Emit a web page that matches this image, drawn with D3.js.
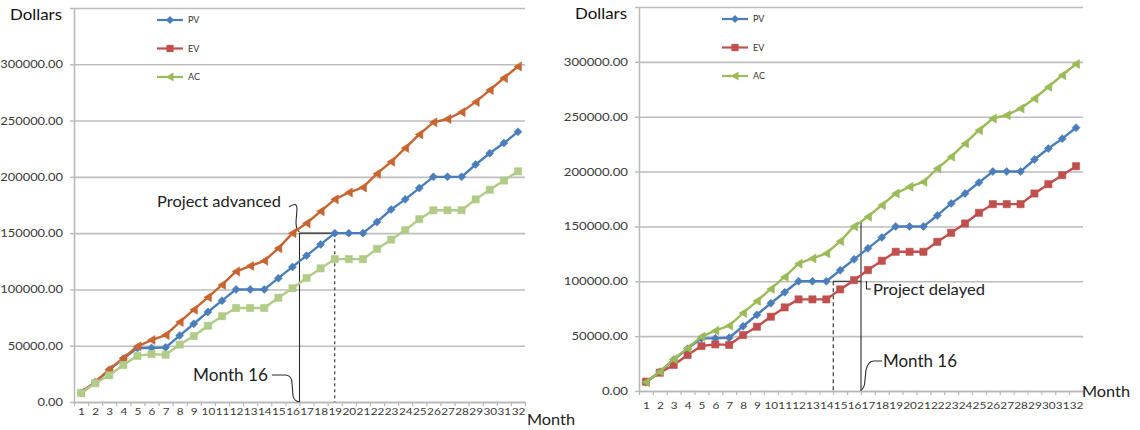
<!DOCTYPE html>
<html><head><meta charset="utf-8">
<script src="https://cdn.jsdelivr.net/npm/d3@7"></script>
<style>
body{margin:0;background:#fff;}
svg{display:block;font-family:Lato,"Open Sans",sans-serif;}
</style>
</head><body>
<svg id="c" width="1140" height="430"></svg>
<script>
// ---------- data ----------
const monthLabels = ["1","2","3","4","5","6","7","8","9","10","11","12","13","14","15","16",
  "17","18","19","20","21","22","23","24","25","26","27","28","29","30","31","32"];
const yTickValues = [0, 50000, 100000, 150000, 200000, 250000, 300000, 350000];
const legendNames = ["PV", "EV", "AC"];

// Planned value (same in both charts)
const pv = [8000, 17500, 28500, 38500, 48000, 48000, 48500, 59000, 69500, 80000, 90000, 100000,
  100000, 100000, 110000, 120000, 130000, 140000, 150000, 150000, 150000, 160000, 171000, 180000,
  190000, 200000, 200000, 200000, 211000, 221000, 230000, 240000];

// Left chart: project advanced
const evAdvanced = [8500, 17600, 29000, 39000, 49500, 55000, 59500, 71000, 82000, 93000, 104000, 116000,
  120800, 125400, 136500, 150000, 158800, 169400, 180000, 186100, 190600, 202800, 213400, 225600,
  237700, 248400, 251400, 257500, 266600, 277100, 287800, 298000];
const acAdvanced = [8000, 16700, 23700, 32800, 41000, 42500, 42000, 51000, 58600, 67700, 76200, 83500,
  83500, 83500, 92600, 101000, 110200, 118700, 126900, 126900, 126900, 136000, 144200, 152700,
  162400, 170300, 170300, 170300, 180000, 188500, 196700, 204900];

// Right chart: project delayed
const evDelayed = [8500, 16700, 23700, 32800, 41000, 42500, 42000, 51000, 58600, 67700, 76200, 83500,
  83500, 83500, 92600, 101000, 110200, 118700, 126900, 126900, 126900, 136000, 144200, 152700,
  162400, 170300, 170300, 170300, 180000, 188500, 196700, 204900];
const acDelayed = [8000, 17600, 29000, 39000, 49500, 55000, 59500, 71000, 82000, 93000, 104000, 116000,
  120800, 125400, 136500, 150000, 158800, 169400, 180000, 186100, 190600, 202800, 213400, 225600,
  237700, 248400, 251400, 257500, 266600, 277100, 287800, 298000];

// ---------- drawing ----------
const svg = d3.select("#c");

const markerPath = {
  diamond: "M0,-4L4,0L0,4L-4,0Z",
  square: "M-3.6,-3.6H3.6V3.6H-3.6Z",
  triLeft: "M-4,0L3.5,-4.5L3.5,4.5Z"
};

const C = {blue:"#4A7EBB", red:"#C0504D", green:"#9BBB59", orange:"#C8642F", pale:"#B1CB88"};

function panel(cfg) {
  const g = svg.append("g");

  const x = d3.scaleLinear().domain([0.5, monthLabels.length + 0.5]).range([cfg.left, cfg.right]);
  const y = d3.scaleLinear().domain([0, 350000]).range([cfg.bottom, cfg.top]);

  // y axis with gridlines
  const ya = g.append("g").attr("transform", `translate(${cfg.left},0)`)
    .call(d3.axisLeft(y).tickValues(yTickValues)
      .tickSizeInner(-(cfg.right - cfg.left)).tickSizeOuter(0).tickPadding(11)
      .tickFormat(d => d === 350000 ? "" : d.toFixed(2)));
  ya.select(".domain").attr("stroke", "#b8b8b8").attr("stroke-width", 1.5);
  ya.selectAll(".tick line").attr("stroke", "#bdbdbd").attr("stroke-width", 1.6);
  ya.selectAll(".tick").append("line").attr("x1", -4).attr("x2", 0)
    .attr("stroke", "#b8b8b8").attr("stroke-width", 1.4);
  ya.selectAll(".tick text")
    .attr("font-size", 11).attr("fill", "#3a3a3a")
    .attr("font-family", "Lato, 'Open Sans', sans-serif")
    .attr("x", -11 / cfg.ysx)
    .attr("transform", `scale(${cfg.ysx},1)`);

  // x axis: boundary ticks
  const bounds = monthLabels.map((m, i) => i + 0.5).concat([monthLabels.length + 0.5]);
  const xt = g.append("g").attr("transform", `translate(0,${cfg.bottom})`)
    .call(d3.axisBottom(x).tickValues(bounds).tickSize(4).tickSizeOuter(0).tickFormat(""));
  xt.select(".domain").attr("stroke", "#b8b8b8").attr("stroke-width", 1.5);
  xt.selectAll(".tick line").attr("stroke", "#b8b8b8").attr("stroke-width", 1.2);

  // x axis: labels at category centres
  const xl = g.append("g").attr("transform", `translate(0,${cfg.bottom})`)
    .call(d3.axisBottom(x).tickValues(monthLabels.map((m, i) => i + 1))
      .tickSize(0).tickPadding(cfg.xPad).tickFormat((d, i) => monthLabels[i]));
  xl.select(".domain").remove();
  xl.selectAll(".tick text").attr("font-size", 10).attr("fill", "#3a3a3a")
    .attr("font-family", "Lato, 'Open Sans', sans-serif")
    .attr("transform", "scale(1.18,1)");

  // axis titles
  g.append("text").attr("x", cfg.dollarsX).attr("y", cfg.top + 12)
    .attr("font-size", 16).attr("fill", "#111").attr("textLength", 52)
    .attr("lengthAdjust", "spacingAndGlyphs").text("Dollars");
  g.append("text").attr("x", cfg.monthX).attr("y", cfg.monthY)
    .attr("font-size", 16).attr("fill", "#222").attr("textLength", 48)
    .attr("lengthAdjust", "spacingAndGlyphs").text("Month");

  // annotations (drawn beneath series)
  const ann = g.append("g").attr("stroke", "#2a2a2a").attr("fill", "none").attr("stroke-width", 1.1);
  cfg.annotate(ann, g, x, y);

  // series
  const line = d3.line().x((d, i) => x(i + 1)).y(d => y(d));
  cfg.series.forEach(s => {
    g.append("path").datum(s.values).attr("d", line)
      .attr("fill", "none").attr("stroke", s.color).attr("stroke-width", 2.4)
      .attr("stroke-linejoin", "round");
    g.append("g").selectAll("path").data(s.values).join("path")
      .attr("d", markerPath[s.marker])
      .attr("transform", (d, i) => `translate(${x(i + 1)},${y(d)})`)
      .attr("fill", s.color).attr("stroke", s.color).attr("stroke-width", 0.6);
  });

  // legend
  const lg = g.append("g");
  cfg.legend.forEach((s, i) => {
    const ly = cfg.legY + i * 28.5;
    lg.append("line").attr("x1", cfg.legX).attr("x2", cfg.legX + 26).attr("y1", ly).attr("y2", ly)
      .attr("stroke", s.color).attr("stroke-width", 2.2);
    lg.append("path").attr("d", markerPath[s.marker])
      .attr("transform", `translate(${cfg.legX + 13},${ly})`).attr("fill", s.color);
    lg.append("text").attr("x", cfg.legX + 31).attr("y", ly + 3).attr("font-size", 9)
      .attr("fill", "#333").text(legendNames[i]);
  });
}

const legendSpec = [
  {color: C.blue, marker: "diamond"},
  {color: C.red, marker: "square"},
  {color: C.green, marker: "triLeft"}
];

// Left chart
panel({
  left: 74, right: 525, top: 8, bottom: 402,
  ysx: 1.17, xPad: 6, dollarsX: 10, monthX: 527, monthY: 425,
  legX: 157, legY: 20, legend: legendSpec,
  series: [
    {values: pv, color: C.blue, marker: "diamond"},
    {values: evAdvanced, color: C.orange, marker: "triLeft"},
    {values: acAdvanced, color: C.pale, marker: "square"}
  ],
  annotate: (a, g, x, y) => {
    const yv = y(pv[18]);
    a.append("line").attr("x1", x(16.5)).attr("x2", x(16.5)).attr("y1", yv).attr("y2", y(0));
    a.append("line").attr("x1", x(16.5)).attr("x2", x(19)).attr("y1", yv).attr("y2", yv);
    a.append("line").attr("x1", x(19)).attr("x2", x(19)).attr("y1", yv).attr("y2", y(0))
      .attr("stroke-dasharray", "3,3");
    a.append("path").attr("d", "M289,207Q297,201 297,209L296,222Q296,230 299.5,232");
    a.append("path").attr("d", "M272,375L286,375Q292,376 292,383L293,396Q294,401 299.5,402");
    g.append("text").attr("x", 157).attr("y", 207).attr("font-size", 15).attr("fill", "#222")
      .attr("textLength", 124).attr("lengthAdjust", "spacingAndGlyphs").text("Project advanced");
    g.append("text").attr("x", 193).attr("y", 381).attr("font-size", 17).attr("fill", "#222")
      .attr("textLength", 75).attr("lengthAdjust", "spacingAndGlyphs").text("Month 16");
  }
});

// Right chart
panel({
  left: 639, right: 1083, top: 7, bottom: 391,
  ysx: 1.2, xPad: 11, dollarsX: 575, monthX: 1082, monthY: 397,
  legX: 722, legY: 19, legend: legendSpec,
  series: [
    {values: pv, color: C.blue, marker: "diamond"},
    {values: evDelayed, color: C.red, marker: "square"},
    {values: acDelayed, color: C.green, marker: "triLeft"}
  ],
  annotate: (a, g, x, y) => {
    const yTop = y((acDelayed[15] + acDelayed[16]) / 2);
    const yv = y(pv[13]);
    a.append("line").attr("x1", x(16.5)).attr("x2", x(16.5)).attr("y1", yTop).attr("y2", y(0));
    a.append("line").attr("x1", x(14.5)).attr("x2", x(16.5)).attr("y1", yv).attr("y2", yv);
    a.append("line").attr("x1", x(14.5)).attr("x2", x(14.5)).attr("y1", yv).attr("y2", y(0))
      .attr("stroke-dasharray", "4,3");
    a.append("path").attr("d", "M866.5,281L866.5,289L871,289");
    a.append("path").attr("d", "M861,390Q864.5,389 865,380L866,370Q868,361 874,361L882,361");
    g.append("text").attr("x", 873).attr("y", 295).attr("font-size", 15).attr("fill", "#222")
      .attr("textLength", 112).attr("lengthAdjust", "spacingAndGlyphs").text("Project delayed");
    g.append("text").attr("x", 883).attr("y", 367).attr("font-size", 17).attr("fill", "#222")
      .attr("textLength", 74).attr("lengthAdjust", "spacingAndGlyphs").text("Month 16");
  }
});
</script>
</body></html>
